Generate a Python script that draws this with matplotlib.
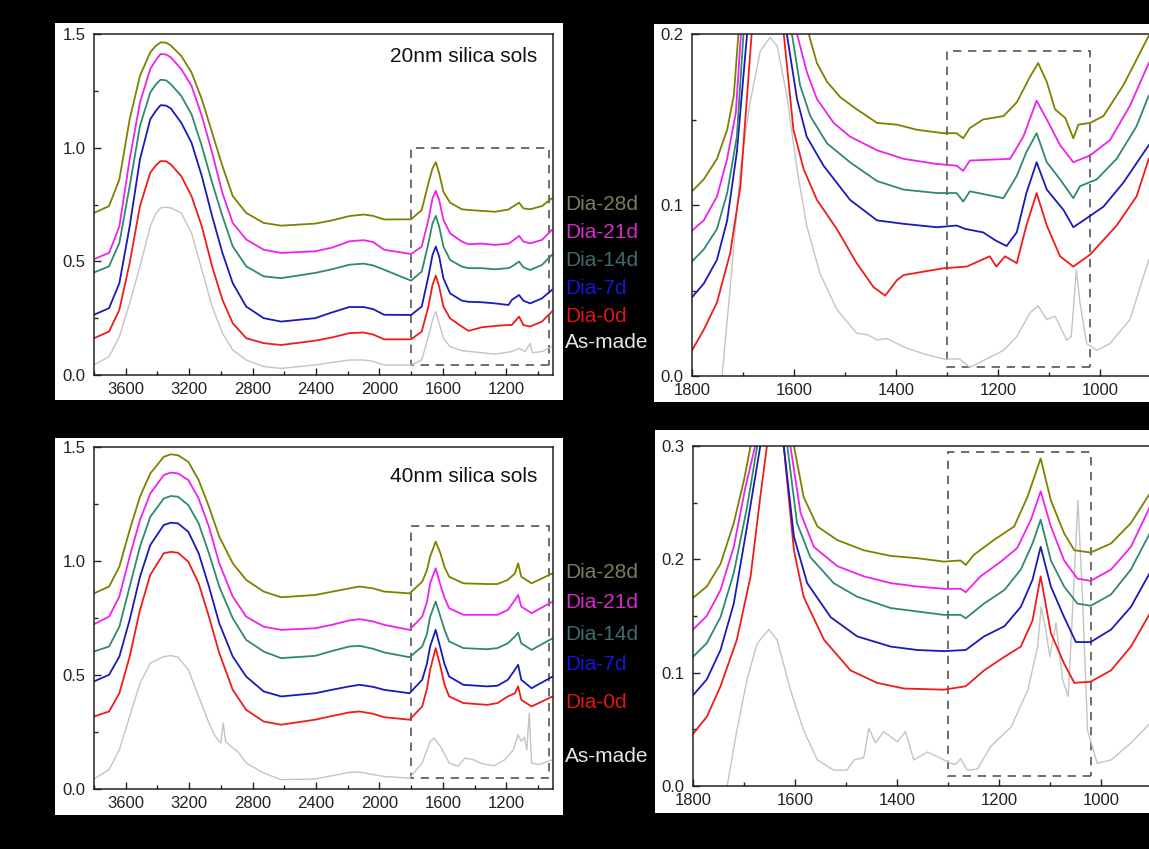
import matplotlib
matplotlib.use("Agg")
import matplotlib.pyplot as plt
from matplotlib.patches import Rectangle
from matplotlib.ticker import MultipleLocator

plt.rcParams['font.family'] = ['Liberation Sans', 'DejaVu Sans']

# --- données ---
series = ['Dia-28d', 'Dia-21d', 'Dia-14d', 'Dia-7d', 'Dia-0d']
line_colors = ['#808000', '#ee22ee', '#2e8a6e', '#1a1ab8', '#ee1c1c']
label_colors = ['#7d7d5e', '#d42cc8', '#3f6b6b', '#1515d8', '#e01515']
gray = '#c4c4c4'

# panneau haut gauche (20 nm, spectre complet)
tl_x = [3800, 3705, 3640, 3575, 3510, 3445, 3410, 3380, 3345, 3315, 3250, 3185, 3120, 3055, 2990,
        2925, 2840, 2730, 2620, 2405, 2300, 2190, 2100, 2040, 1970, 1800, 1733, 1691, 1665, 1644,
        1623, 1596, 1554, 1480, 1438, 1354, 1270, 1186, 1165, 1119, 1092, 1049, 975, 912]
tl_28 = [0.713, 0.743, 0.86, 1.125, 1.316, 1.42, 1.448, 1.463, 1.462, 1.449, 1.404, 1.331, 1.213,
         1.066, 0.919, 0.787, 0.713, 0.669, 0.657, 0.666, 0.68, 0.699, 0.706, 0.70, 0.684, 0.685,
         0.726, 0.843, 0.909, 0.936, 0.887, 0.806, 0.758, 0.729, 0.726, 0.722, 0.718, 0.728, 0.738,
         0.758, 0.733, 0.729, 0.743, 0.777]
tl_21 = [0.51, 0.537, 0.654, 0.949, 1.199, 1.346, 1.385, 1.412, 1.41, 1.397, 1.346, 1.272, 1.14,
         0.978, 0.801, 0.669, 0.596, 0.551, 0.537, 0.544, 0.56, 0.588, 0.593, 0.585, 0.551, 0.532,
         0.565, 0.682, 0.777, 0.81, 0.77, 0.682, 0.623, 0.587, 0.575, 0.578, 0.572, 0.578, 0.587,
         0.612, 0.587, 0.579, 0.594, 0.638]
tl_14 = [0.451, 0.478, 0.581, 0.831, 1.096, 1.243, 1.278, 1.299, 1.296, 1.279, 1.228, 1.147, 1.007,
         0.846, 0.699, 0.566, 0.478, 0.434, 0.426, 0.449, 0.465, 0.485, 0.49, 0.482, 0.463, 0.415,
         0.455, 0.579, 0.667, 0.7, 0.653, 0.565, 0.506, 0.477, 0.47, 0.47, 0.465, 0.47, 0.477,
         0.499, 0.474, 0.462, 0.484, 0.528]
tl_7 = [0.265, 0.294, 0.404, 0.654, 0.949, 1.125, 1.162, 1.187, 1.185, 1.172, 1.11, 1.022, 0.875,
        0.699, 0.537, 0.404, 0.301, 0.25, 0.235, 0.25, 0.275, 0.299, 0.299, 0.29, 0.265, 0.264,
        0.301, 0.433, 0.528, 0.565, 0.521, 0.425, 0.359, 0.327, 0.322, 0.32, 0.315, 0.308, 0.33,
        0.352, 0.327, 0.315, 0.337, 0.374]
tl_0 = [0.162, 0.191, 0.287, 0.493, 0.743, 0.89, 0.922, 0.941, 0.94, 0.926, 0.875, 0.787, 0.654,
        0.478, 0.331, 0.228, 0.162, 0.14, 0.132, 0.151, 0.165, 0.184, 0.187, 0.178, 0.157, 0.157,
        0.191, 0.301, 0.396, 0.437, 0.389, 0.301, 0.249, 0.213, 0.194, 0.21, 0.216, 0.22, 0.22,
        0.257, 0.22, 0.213, 0.235, 0.279]
tl_asm_x = [3800, 3705, 3640, 3575, 3510, 3445, 3410, 3380, 3345, 3315, 3250, 3185, 3120, 3055,
            2990, 2925, 2840, 2730, 2620, 2405, 2300, 2190, 2100, 2040, 1970, 1800, 1733, 1691,
            1665, 1644, 1623, 1596, 1554, 1480, 1270, 1165, 1119, 1081, 1049, 1035, 975, 912]
tl_asm = [0.044, 0.081, 0.169, 0.316, 0.478, 0.654, 0.71, 0.735, 0.738, 0.735, 0.713, 0.625, 0.463,
          0.301, 0.184, 0.11, 0.066, 0.037, 0.029, 0.044, 0.055, 0.066, 0.066, 0.06, 0.044, 0.044,
          0.066, 0.169, 0.242, 0.279, 0.227, 0.161, 0.125, 0.107, 0.092, 0.103, 0.117, 0.103,
          0.139, 0.098, 0.103, 0.125]

# panneau bas gauche (40 nm, spectre complet)
bl_x = [3800, 3705, 3640, 3575, 3510, 3445, 3360, 3315, 3270, 3205, 3140, 3075, 3010, 2925, 2840,
        2730, 2620, 2405, 2300, 2190, 2125, 2040, 1970, 1810, 1730, 1700, 1680, 1645, 1615, 1590,
        1560, 1470, 1320, 1255, 1190, 1145, 1125, 1105, 1040, 908]
bl_28 = [0.858, 0.888, 0.975, 1.136, 1.282, 1.384, 1.457, 1.468, 1.464, 1.435, 1.355, 1.238, 1.107,
         0.99, 0.917, 0.866, 0.841, 0.851, 0.865, 0.88, 0.888, 0.88, 0.866, 0.858, 0.909, 0.96,
         1.019, 1.085, 1.034, 0.975, 0.931, 0.902, 0.899, 0.899, 0.917, 0.946, 0.99, 0.931, 0.902,
         0.946]
bl_21 = [0.723, 0.756, 0.844, 1.019, 1.18, 1.296, 1.377, 1.388, 1.384, 1.355, 1.274, 1.15, 0.99,
         0.844, 0.756, 0.712, 0.698, 0.705, 0.72, 0.739, 0.745, 0.735, 0.72, 0.698, 0.756, 0.82,
         0.902, 0.968, 0.895, 0.84, 0.793, 0.764, 0.764, 0.764, 0.785, 0.829, 0.851, 0.8, 0.771,
         0.822]
bl_14 = [0.603, 0.625, 0.712, 0.888, 1.063, 1.194, 1.274, 1.285, 1.282, 1.245, 1.165, 1.034, 0.888,
         0.749, 0.654, 0.603, 0.574, 0.584, 0.605, 0.625, 0.628, 0.615, 0.599, 0.578, 0.625, 0.68,
         0.756, 0.822, 0.756, 0.70, 0.647, 0.618, 0.613, 0.618, 0.639, 0.669, 0.686, 0.639, 0.61,
         0.661]
bl_7 = [0.472, 0.501, 0.581, 0.742, 0.931, 1.07, 1.158, 1.168, 1.165, 1.128, 1.034, 0.888, 0.727,
        0.581, 0.493, 0.428, 0.406, 0.42, 0.435, 0.45, 0.457, 0.448, 0.435, 0.42, 0.479, 0.55,
        0.625, 0.698, 0.618, 0.55, 0.493, 0.457, 0.45, 0.453, 0.479, 0.523, 0.545, 0.479, 0.442,
        0.493]
bl_0 = [0.318, 0.34, 0.42, 0.581, 0.785, 0.939, 1.034, 1.04, 1.036, 0.997, 0.902, 0.756, 0.596,
        0.435, 0.347, 0.296, 0.282, 0.304, 0.32, 0.336, 0.34, 0.33, 0.315, 0.304, 0.362, 0.44,
        0.523, 0.618, 0.537, 0.46, 0.406, 0.377, 0.369, 0.377, 0.406, 0.42, 0.45, 0.391, 0.362,
        0.406]
bl_asm_x = [3800, 3705, 3640, 3575, 3510, 3445, 3360, 3315, 3270, 3205, 3140, 3075, 3035, 3000,
            2985, 2970, 2925, 2895, 2840, 2730, 2620, 2405, 2190, 2125, 1970, 1810, 1730, 1680,
            1655, 1615, 1560, 1505, 1460, 1405, 1365, 1320, 1275, 1210, 1155, 1125, 1105, 1085,
            1070, 1055, 1040, 995, 908]
bl_asm = [0.044, 0.085, 0.172, 0.318, 0.464, 0.552, 0.581, 0.585, 0.578, 0.523, 0.406, 0.289, 0.231,
          0.201, 0.289, 0.209, 0.18, 0.165, 0.114, 0.07, 0.041, 0.044, 0.073, 0.074, 0.055, 0.048,
          0.114, 0.209, 0.223, 0.187, 0.114, 0.099, 0.136, 0.128, 0.114, 0.107, 0.102, 0.128,
          0.172, 0.238, 0.209, 0.228, 0.172, 0.333, 0.114, 0.107, 0.128]

# panneau haut droit (20 nm, zoom 1800-900)
tr_28_x = [1800, 1777, 1751, 1731, 1718, 1709, 1645, 1571, 1555, 1535, 1509, 1477, 1437, 1398, 1359,
           1307, 1281, 1268, 1255, 1229, 1189, 1163, 1137, 1121, 1104, 1088, 1068, 1052, 1042, 1019,
           993, 954, 928, 904]
tr_28 = [0.108, 0.115, 0.127, 0.144, 0.164, 0.2, 0.35, 0.2, 0.183, 0.172, 0.163, 0.156, 0.148, 0.147,
         0.144, 0.142, 0.142, 0.139, 0.145, 0.15, 0.152, 0.16, 0.175, 0.183, 0.172, 0.156, 0.151,
         0.139, 0.147, 0.148, 0.152, 0.17, 0.185, 0.199]
tr_21_x = [1800, 1777, 1751, 1731, 1714, 1704, 1645, 1594, 1575, 1555, 1522, 1490, 1437, 1385, 1320,
           1281, 1268, 1255, 1176, 1150, 1124, 1104, 1078, 1052, 1019, 980, 941, 904]
tr_21 = [0.085, 0.091, 0.105, 0.127, 0.154, 0.2, 0.35, 0.2, 0.178, 0.162, 0.148, 0.14, 0.132, 0.127,
         0.124, 0.123, 0.12, 0.126, 0.127, 0.14, 0.161, 0.15, 0.135, 0.125, 0.129, 0.138, 0.158, 0.183]
tr_14_x = [1800, 1777, 1751, 1731, 1712, 1699, 1645, 1604, 1588, 1568, 1535, 1490, 1437, 1385, 1320,
           1281, 1268, 1255, 1189, 1163, 1144, 1124, 1104, 1078, 1052, 1039, 1006, 967, 928, 904]
tr_14 = [0.067, 0.074, 0.086, 0.107, 0.14, 0.2, 0.35, 0.2, 0.17, 0.152, 0.136, 0.125, 0.114, 0.109,
         0.107, 0.107, 0.102, 0.108, 0.104, 0.117, 0.131, 0.142, 0.125, 0.115, 0.104, 0.111, 0.115,
         0.127, 0.146, 0.164]
tr_7_x = [1800, 1777, 1751, 1731, 1712, 1692, 1645, 1614, 1594, 1575, 1542, 1490, 1437, 1385, 1320,
          1281, 1264, 1229, 1203, 1183, 1163, 1144, 1124, 1104, 1071, 1052, 1032, 993, 954, 904]
tr_7 = [0.046, 0.054, 0.068, 0.091, 0.131, 0.2, 0.35, 0.2, 0.162, 0.14, 0.123, 0.103, 0.091, 0.089,
        0.087, 0.088, 0.086, 0.084, 0.079, 0.076, 0.084, 0.107, 0.125, 0.109, 0.097, 0.087, 0.091,
        0.099, 0.113, 0.135]
tr_0_x = [1800, 1777, 1751, 1725, 1705, 1683, 1645, 1620, 1601, 1581, 1555, 1516, 1477, 1444, 1421,
          1398, 1385, 1346, 1307, 1261, 1216, 1203, 1186, 1163, 1144, 1124, 1104, 1078, 1052, 1019,
          967, 928, 904]
tr_0 = [0.015, 0.027, 0.043, 0.072, 0.111, 0.2, 0.35, 0.2, 0.144, 0.121, 0.103, 0.086, 0.066, 0.052,
        0.047, 0.056, 0.059, 0.061, 0.063, 0.064, 0.07, 0.064, 0.07, 0.066, 0.088, 0.107, 0.088, 0.07,
        0.064, 0.071, 0.088, 0.105, 0.127]
tr_asm_x = [1755, 1741, 1725, 1705, 1686, 1666, 1647, 1633, 1614, 1594, 1575, 1549, 1516, 1477, 1454,
            1437, 1418, 1385, 1346, 1307, 1275, 1255, 1229, 1189, 1163, 1137, 1121, 1104, 1088, 1065,
            1056, 1046, 1039, 1026, 1006, 980, 941, 904]
tr_asm = [-0.03, 0.0, 0.052, 0.121, 0.16, 0.19, 0.198, 0.193, 0.164, 0.121, 0.088, 0.06, 0.039, 0.025,
          0.024, 0.021, 0.022, 0.017, 0.013, 0.01, 0.01, 0.005, 0.009, 0.015, 0.023, 0.037, 0.041,
          0.033, 0.035, 0.021, 0.023, 0.062, 0.043, 0.019, 0.015, 0.019, 0.033, 0.068]

# panneau bas droit (40 nm, zoom 1800-900)
br_28_x = [1800, 1773, 1746, 1720, 1700, 1687, 1645, 1602, 1583, 1556, 1517, 1465, 1412, 1360, 1308,
           1275, 1265, 1249, 1210, 1170, 1144, 1118, 1098, 1072, 1052, 1020, 980, 941, 904]
br_28 = [0.166, 0.176, 0.196, 0.232, 0.27, 0.3, 0.5, 0.3, 0.255, 0.229, 0.217, 0.208, 0.203, 0.201,
         0.198, 0.199, 0.195, 0.204, 0.217, 0.229, 0.255, 0.289, 0.252, 0.223, 0.208, 0.206, 0.214,
         0.232, 0.258]
br_21_x = [1800, 1773, 1746, 1720, 1697, 1678, 1645, 1609, 1589, 1563, 1517, 1465, 1412, 1360, 1308,
           1275, 1265, 1236, 1196, 1164, 1137, 1118, 1098, 1072, 1046, 1020, 980, 941, 904]
br_21 = [0.138, 0.15, 0.173, 0.211, 0.264, 0.3, 0.5, 0.3, 0.241, 0.211, 0.194, 0.185, 0.179, 0.176,
         0.174, 0.174, 0.171, 0.185, 0.198, 0.21, 0.235, 0.26, 0.229, 0.199, 0.183, 0.181, 0.191,
         0.211, 0.246]
br_14_x = [1800, 1773, 1746, 1720, 1694, 1674, 1645, 1615, 1596, 1570, 1524, 1478, 1412, 1360, 1308,
           1275, 1265, 1229, 1189, 1157, 1134, 1118, 1098, 1072, 1046, 1020, 980, 941, 904]
br_14 = [0.114, 0.126, 0.149, 0.188, 0.246, 0.3, 0.5, 0.3, 0.232, 0.202, 0.179, 0.167, 0.157, 0.154,
         0.151, 0.151, 0.148, 0.161, 0.173, 0.191, 0.214, 0.235, 0.199, 0.176, 0.161, 0.159, 0.169,
         0.191, 0.223]
br_7_x = [1800, 1773, 1746, 1720, 1694, 1668, 1645, 1622, 1602, 1576, 1530, 1478, 1412, 1360, 1308,
          1265, 1229, 1189, 1157, 1134, 1118, 1098, 1072, 1049, 1020, 980, 941, 904]
br_7 = [0.08, 0.094, 0.12, 0.161, 0.229, 0.3, 0.5, 0.3, 0.22, 0.179, 0.149, 0.132, 0.123, 0.12, 0.119,
        0.12, 0.132, 0.141, 0.158, 0.182, 0.211, 0.176, 0.149, 0.127, 0.127, 0.138, 0.158, 0.188]
br_0_x = [1800, 1773, 1746, 1714, 1687, 1668, 1655, 1640, 1622, 1602, 1583, 1543, 1491, 1439, 1386,
          1308, 1265, 1229, 1189, 1157, 1134, 1118, 1098, 1072, 1052, 1020, 980, 941, 904]
br_0 = [0.046, 0.061, 0.088, 0.129, 0.185, 0.255, 0.3, 0.5, 0.3, 0.208, 0.167, 0.129, 0.102, 0.091,
        0.086, 0.085, 0.088, 0.102, 0.114, 0.123, 0.146, 0.185, 0.135, 0.108, 0.091, 0.092, 0.102,
        0.123, 0.152]
br_asm_x = [1745, 1733, 1714, 1694, 1674, 1651, 1635, 1609, 1583, 1556, 1524, 1498, 1484, 1465, 1455,
            1442, 1426, 1399, 1383, 1367, 1340, 1321, 1295, 1285, 1275, 1262, 1242, 1216, 1176, 1143,
            1124, 1117, 1108, 1100, 1088, 1075, 1064, 1054, 1045, 1036, 1026, 1007, 980, 941, 904]
br_asm = [-0.03, 0.0, 0.049, 0.094, 0.126, 0.138, 0.129, 0.085, 0.049, 0.023, 0.014, 0.014, 0.023,
          0.025, 0.051, 0.038, 0.048, 0.039, 0.048, 0.023, 0.03, 0.026, 0.02, 0.019, 0.024, 0.014,
          0.015, 0.035, 0.052, 0.085, 0.123, 0.158, 0.138, 0.114, 0.144, 0.094, 0.079, 0.167, 0.252,
          0.167, 0.049, 0.02, 0.023, 0.038, 0.055]

# --- mise en page (pixels de la figure 1149x849) ---
W, H = 1149, 849
fig = plt.figure(figsize=(W / 100, H / 100), dpi=100, facecolor='black')


def px_rect(l, t, r, b):
    return [l / W, 1 - b / H, (r - l) / W, (b - t) / H]


# fonds blancs derrière chaque panneau
for (l, t, r, b) in [(55, 23, 563, 400), (654, 24, 1149, 402),
                     (55, 438, 563, 815), (655, 430, 1149, 813)]:
    fig.add_artist(Rectangle((l / W, 1 - b / H), (r - l) / W, (b - t) / H,
                             transform=fig.transFigure, facecolor='white',
                             edgecolor='none', zorder=-5))


def style_axes(ax, xmaj, xmin, ymaj, ymin):
    ax.set_facecolor('white')
    ax.xaxis.set_major_locator(MultipleLocator(xmaj))
    ax.xaxis.set_minor_locator(MultipleLocator(xmin))
    ax.yaxis.set_major_locator(MultipleLocator(ymaj))
    ax.yaxis.set_minor_locator(MultipleLocator(ymin))
    ax.tick_params(which='both', direction='in', top=False, right=False,
                   colors='#222222', labelsize=12)
    ax.tick_params(which='major', length=5, width=1)
    ax.tick_params(which='minor', length=3, width=1)
    ax.tick_params(axis='x', pad=5)
    ax.tick_params(axis='y', pad=6)
    for s in ax.spines.values():
        s.set_color('#222222')
        s.set_linewidth(1.1)


def draw(ax, curves, asm_x, asm_y):
    ax.plot(asm_x, asm_y, color=gray, lw=1.0)
    for (x, y), c in zip(curves[::-1], line_colors[::-1]):
        ax.plot(x, y, color=c, lw=1.3)


def dashed_box(ax, x0, x1, y0, y1):
    ax.add_patch(Rectangle((x1, y0), x0 - x1, y1 - y0, fill=False,
                           edgecolor='#555555', lw=1.2, ls=(0, (5, 4))))


# haut gauche
ax1 = fig.add_axes(px_rect(94, 34, 553, 375))
style_axes(ax1, 400, 200, 0.5, 0.25)
draw(ax1, [(tl_x, tl_28), (tl_x, tl_21), (tl_x, tl_14), (tl_x, tl_7), (tl_x, tl_0)],
     tl_asm_x, tl_asm)
ax1.set_xlim(3800, 905)
ax1.set_ylim(0, 1.5)
dashed_box(ax1, 1800, 930, 0.045, 1.0)
ax1.text(0.965, 0.933, '20nm silica sols', transform=ax1.transAxes, ha='right',
         va='center', fontsize=15, color='#111111')

# haut droit
ax2 = fig.add_axes(px_rect(692, 34, 1161, 376))
style_axes(ax2, 200, 100, 0.1, 0.05)
draw(ax2, [(tr_28_x, tr_28), (tr_21_x, tr_21), (tr_14_x, tr_14), (tr_7_x, tr_7), (tr_0_x, tr_0)],
     tr_asm_x, tr_asm)
ax2.set_xlim(1800, 880)
ax2.set_ylim(0, 0.2)
dashed_box(ax2, 1300, 1020, 0.005, 0.19)

# bas gauche
ax3 = fig.add_axes(px_rect(94, 447, 553, 789))
style_axes(ax3, 400, 200, 0.5, 0.25)
draw(ax3, [(bl_x, bl_28), (bl_x, bl_21), (bl_x, bl_14), (bl_x, bl_7), (bl_x, bl_0)],
     bl_asm_x, bl_asm)
ax3.set_xlim(3800, 905)
ax3.set_ylim(0, 1.5)
dashed_box(ax3, 1800, 930, 0.047, 1.152)
ax3.text(0.965, 0.915, '40nm silica sols', transform=ax3.transAxes, ha='right',
         va='center', fontsize=15, color='#111111')

# bas droit
ax4 = fig.add_axes(px_rect(693, 446, 1162, 786))
style_axes(ax4, 200, 100, 0.1, 0.05)
draw(ax4, [(br_28_x, br_28), (br_21_x, br_21), (br_14_x, br_14), (br_7_x, br_7), (br_0_x, br_0)],
     br_asm_x, br_asm)
ax4.set_xlim(1800, 880)
ax4.set_ylim(0, 0.3)
dashed_box(ax4, 1300, 1020, 0.009, 0.295)

# étiquettes des séries, sur le fond noir
names = series + ['As-made']
colors = label_colors + ['#e6e6e6']
for name, c, y in zip(names, colors, [205, 232, 260, 289, 317, 343]):
    fig.text(565 / W, 1 - y / H, name, color=c, fontsize=15, va='center', ha='left')
for name, c, y in zip(names, colors, [573, 603, 635, 665, 702, 757]):
    fig.text(565 / W, 1 - y / H, name, color=c, fontsize=15, va='center', ha='left')

fig.savefig('out.png', dpi=100, facecolor='black')
